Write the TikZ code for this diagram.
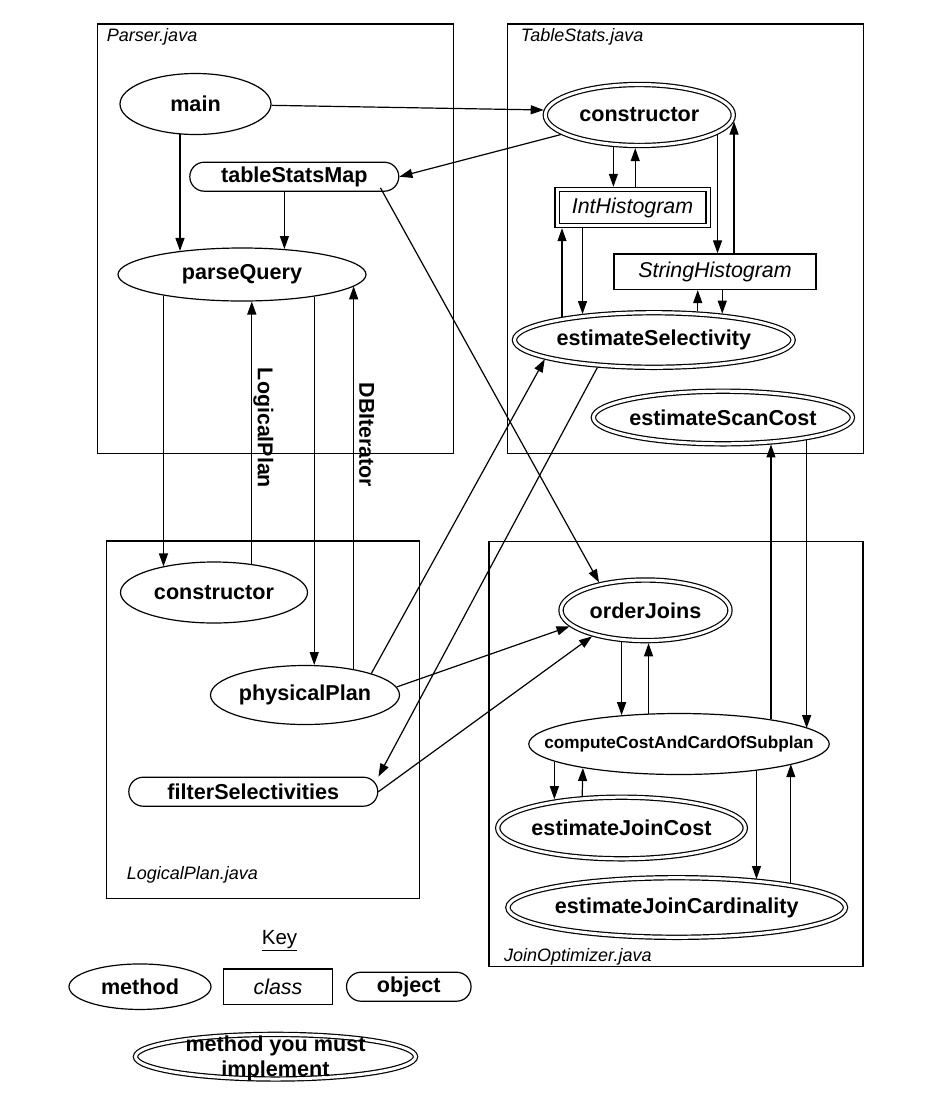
\documentclass[tikz,border=0pt]{standalone}
\usepackage{fontspec}
\setmainfont{Liberation Sans}
\usetikzlibrary{arrows.meta,shapes.geometric}
\newcommand\nt[1]{\makebox[0pt]{#1}}
\tikzset{
  meth/.style={ellipse, draw, line width=1.2pt, inner sep=0pt, font=\fontsize{21.6}{25}\selectfont\bfseries},
  must/.style={meth, double, double distance=3pt, outer sep=2.7pt},
  cls/.style={rectangle, draw, line width=1.2pt, inner sep=0pt, font=\fontsize{21.4}{25}\selectfont\itshape},
  dcls/.style={cls, double, double distance=3pt, outer sep=2.7pt},
  obj/.style={rectangle, rounded corners=14.5pt, draw, line width=1.2pt, inner sep=0pt, font=\fontsize{21.6}{25}\selectfont\bfseries},
  arr/.style={line width=1.2pt, -{Triangle[length=13pt,width=9pt]}},
  filelbl/.style={anchor=west, inner sep=0pt, font=\fontsize{18}{21}\selectfont\itshape},
  vlbl/.style={rotate=-90, inner sep=0pt, font=\fontsize{21.4}{25}\selectfont\bfseries},
  fbox/.style={draw, line width=1.2pt}
}
\begin{document}
\begin{tikzpicture}[x=1pt,y=-1pt]
\useasboundingbox (0,0) rectangle (928,1096);
% file boxes
\draw[fbox] (97.3,24) rectangle (453.3,453.3);
\draw[fbox] (507.3,24) rectangle (863.3,453.3);
\draw[fbox] (106.7,541) rectangle (419.3,898.3);
\draw[fbox] (489,541.7) rectangle (863,966.7);
\node[filelbl] (fP) at (106.7,37) {Parser.java};
\node[filelbl] (fT) at (520.7,37) {TableStats.java};
\node[filelbl] (fL) at (126.7,875) {LogicalPlan.java};
\node[filelbl] (fJ) at (504,956.7) {JoinOptimizer.java};
% Parser
\node[meth, minimum width=151pt, minimum height=61pt] (main) at (195.5,104) {\nt{main}};
\node[obj, minimum width=209pt, minimum height=29pt] (tsm) at (294.3,176.7) {\nt{tableStatsMap}};
\node[meth, minimum width=248pt, minimum height=53pt] (pq) at (242,274.5) {\nt{parseQuery}};
% TableStats
\node[must, minimum width=188pt, minimum height=61pt] (tsc) at (639.3,115) {\nt{constructor}};
\node[dcls, minimum width=151pt, minimum height=36pt] (ih) at (632.5,207.5) {\nt{IntHistogram}};
\node[cls, minimum width=202pt, minimum height=35.5pt] (sh) at (715,271.7) {\nt{StringHistogram}};
\node[must, minimum width=278.6pt, minimum height=54.6pt] (es) at (653.8,340) {\nt{estimateSelectivity}};
\node[must, minimum width=259pt, minimum height=52.6pt] (esc) at (722.9,417.5) {\nt{estimateScanCost}};
% LogicalPlan
\node[meth, minimum width=187pt, minimum height=61pt] (lpc) at (214,592.5) {\nt{constructor}};
\node[meth, minimum width=189pt, minimum height=59pt] (pp) at (305,695) {\nt{physicalPlan}};
\node[obj, minimum width=249pt, minimum height=29pt] (fs) at (253.3,791.7) {\nt{filterSelectivities}};
% JoinOptimizer
\node[must, minimum width=169pt, minimum height=60.6pt] (oj) at (645.5,610.3) {\nt{orderJoins}};
\node[meth, minimum width=300.5pt, minimum height=61pt, font=\fontsize{17.2}{20}\selectfont\bfseries] (cc) at (679,744) {\nt{computeCostAndCardOfSubplan}};
\node[must, minimum width=247.6pt, minimum height=61.6pt] (ejc) at (621.5,828) {\nt{estimateJoinCost}};
\node[must, minimum width=337.6pt, minimum height=59.6pt] (ejcard) at (676.7,907.5) {\nt{estimateJoinCardinality}};
% Key
\node[font=\fontsize{20.5}{24}\selectfont, inner sep=0pt] (key) at (279.5,941) {\underline{Key}};
\node[meth, minimum width=142pt, minimum height=45.5pt] (kmeth) at (140,986.7) {\nt{method}};
\node[cls, minimum width=109.4pt, minimum height=35.5pt] (kcls) at (278,986.7) {\nt{class}};
\node[obj, minimum width=124.5pt, minimum height=29pt] (kobj) at (408.8,986.7) {\nt{object}};
\node[must, minimum width=280pt, minimum height=44.6pt] (kmust) at (275.5,1056.7) {\nt{\smash{\raisebox{-7pt}{\begin{tabular}{@{}c@{}}method you must\\implement\end{tabular}}}}};
% connectors
\draw[arr] (main.359) -- (tsc.177);
\draw[arr] (tsc.194) -- (tsm.east);
\draw[arr] (main.243) -- (main.243 |- pq.159);
\draw[arr] (pq.31 |- tsm.south) -- (pq.31);
\draw[arr] ([xshift=-19pt,yshift=4pt]tsm.south east) -- (oj.149);
\draw[arr] (pq.195) -- (pq.195 |- lpc.153);
\draw[arr] (lpc.37) -- (lpc.37 |- pq.290);
\draw[arr] (pq.343) -- (pq.343 |- pp.73);
\draw[arr] (pp.28) -- (pp.28 |- pq.354);
\draw[arr] (pp.18) -- (es.190);
\draw[arr] (es.206) -- (fs.north east);
\draw[arr] (pp.5) -- (oj.192);
\draw[arr] (fs.east) -- (oj.206);
\draw[arr] (tsc.231) -- (tsc.231 |- ih.north);
\draw[arr] (tsc.263 |- ih.north) -- (tsc.263);
\draw[arr] (tsc.346) -- (tsc.346 |- sh.north);
\draw[arr] (tsc.356 |- sh.north) -- (tsc.356);
\draw[arr] (es.160 |- ih.south) -- (es.160);
\draw[arr] (es.166) -- (es.166 |- ih.south);
\draw[arr] (es.33) -- (es.33 |- sh.south);
\draw[arr] (es.21 |- sh.south) -- (es.21);
\draw[arr] (cc.15) -- (cc.15 |- esc.331);
\draw[arr] (esc.345) -- (esc.345 |- cc.7);
\draw[arr] (oj.233) -- (oj.233 |- cc.153);
\draw[arr] (cc.135) -- (cc.135 |- oj.275);
\draw[arr] (cc.188) -- (cc.188 |- ejc.156);
\draw[arr] (ejc.141) -- (cc.194);
\draw[arr] (cc.341) -- (cc.341 |- ejcard.19);
\draw[arr] (ejcard.12) -- (ejcard.12 |- cc.350);
% edge labels
\node[vlbl] (lbl1) at (263.3,428) {LogicalPlan};
\node[vlbl] (lbl2) at (366.7,435) {DBIterator};
\end{tikzpicture}
\end{document}
